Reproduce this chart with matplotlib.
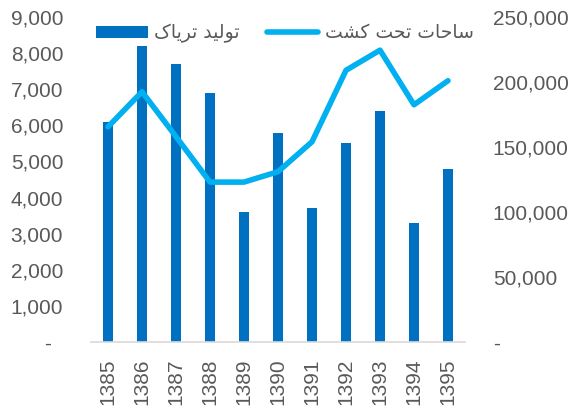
import matplotlib
matplotlib.use("Agg")
import matplotlib.pyplot as plt
from matplotlib.ticker import FuncFormatter, MultipleLocator
from matplotlib.lines import Line2D
from matplotlib.patches import Patch

# ---- data ----
years = ["1385", "1386", "1387", "1388", "1389", "1390", "1391", "1392", "1393", "1394", "1395"]
opium_production = [6100, 8200, 7700, 6900, 3600, 5800, 3700, 5500, 6400, 3300, 4800]
cultivated_area = [165500, 192500, 158000, 123000, 123000, 131000, 154000, 209000, 224500, 182500, 201000]
label_bar = "تولید تریاک"
label_line = "ساحات تحت کشت"

# ---- minimal Arabic/Persian shaping for display (matplotlib has no shaping) ----
FORMS = {
    "\u062A": ("\uFE95", "\uFE96", "\uFE97", "\uFE98"),
    "\u0648": ("\uFEED", "\uFEEE", None, None),
    "\u0644": ("\uFEDD", "\uFEDE", "\uFEDF", "\uFEE0"),
    "\u06CC": ("\uFBFC", "\uFBFD", "\uFBFE", "\uFBFF"),
    "\u062F": ("\uFEA9", "\uFEAA", None, None),
    "\u0631": ("\uFEAD", "\uFEAE", None, None),
    "\u0627": ("\uFE8D", "\uFE8E", None, None),
    "\u06A9": ("\uFB8E", "\uFB8F", "\uFB90", "\uFB91"),
    "\u0633": ("\uFEB1", "\uFEB2", "\uFEB3", "\uFEB4"),
    "\u062D": ("\uFEA1", "\uFEA2", "\uFEA3", "\uFEA4"),
    "\u0634": ("\uFEB5", "\uFEB6", "\uFEB7", "\uFEB8"),
}


def shape(text):
    out = []
    n = len(text)
    for i, ch in enumerate(text):
        if ch not in FORMS:
            out.append(ch)
            continue
        iso, fin, ini, med = FORMS[ch]
        prev = text[i - 1] if i > 0 else None
        nxt = text[i + 1] if i + 1 < n else None
        jp = prev in FORMS and FORMS[prev][2] is not None
        jn = nxt in FORMS and ini is not None
        if jp and jn:
            out.append(med)
        elif jp:
            out.append(fin)
        elif jn:
            out.append(ini)
        else:
            out.append(iso)
    return "".join(reversed(out))


# ---- style ----
FONT = ["Liberation Sans", "DejaVu Sans"]
plt.rcParams["font.family"] = FONT
GRAY = "#595959"
BAR_C = "#0070C0"
LINE_C = "#00B0F0"
FS = 15
LFS = 13.5

fig = plt.figure(figsize=(5.75, 4.09), dpi=100)
ax = fig.add_axes([91 / 575, 67 / 409, 374 / 575, 325 / 409])
ax2 = ax.twinx()

x = list(range(len(years)))
ax.bar(x, opium_production, width=0.32, color=BAR_C, zorder=2)
ax2.plot(x, cultivated_area, color=LINE_C, linewidth=4.0,
         solid_capstyle="round", solid_joinstyle="round", zorder=3)

ax.set_xlim(-0.5, len(years) - 0.5)
ax.set_ylim(0, 9000)
ax2.set_ylim(0, 250000)
ax.yaxis.set_major_locator(MultipleLocator(1000))
ax2.yaxis.set_major_locator(MultipleLocator(50000))


def fmt_left(v, pos):
    return "-  " if v == 0 else f"{int(v):,}"


def fmt_right(v, pos):
    return "-" if v == 0 else f"{int(v):,}"


ax.yaxis.set_major_formatter(FuncFormatter(fmt_left))
ax2.yaxis.set_major_formatter(FuncFormatter(fmt_right))

ax.set_xticks(x)
ax.set_xticklabels(years, rotation=90)

for a in (ax, ax2):
    for s in a.spines.values():
        s.set_visible(False)
ax.spines["bottom"].set_visible(True)
ax.spines["bottom"].set_color("#D9D9D9")
ax.spines["bottom"].set_linewidth(1.2)

ax.tick_params(axis="y", length=0, pad=20, labelsize=FS, labelcolor=GRAY)
ax.tick_params(axis="x", length=0, pad=12, labelsize=FS, labelcolor=GRAY)
ax2.tick_params(axis="y", length=0, pad=20, labelsize=FS, labelcolor=GRAY)

handles = [
    Patch(facecolor=BAR_C, edgecolor="none", label=shape(label_bar)),
    Line2D([0], [0], color=LINE_C, linewidth=4.0, solid_capstyle="round", label=shape(label_line)),
]
leg = fig.legend(handles=handles, loc="center", bbox_to_anchor=(285 / 575, 1 - 33 / 409),
                 ncol=2, frameon=False, handlelength=2.75, handleheight=0.6,
                 handletextpad=0.35, columnspacing=1.45, borderpad=0,
                 prop={"family": ["DejaVu Sans"], "size": LFS})
for t in leg.get_texts():
    t.set_color(GRAY)

fig.savefig("out.png", dpi=100)
